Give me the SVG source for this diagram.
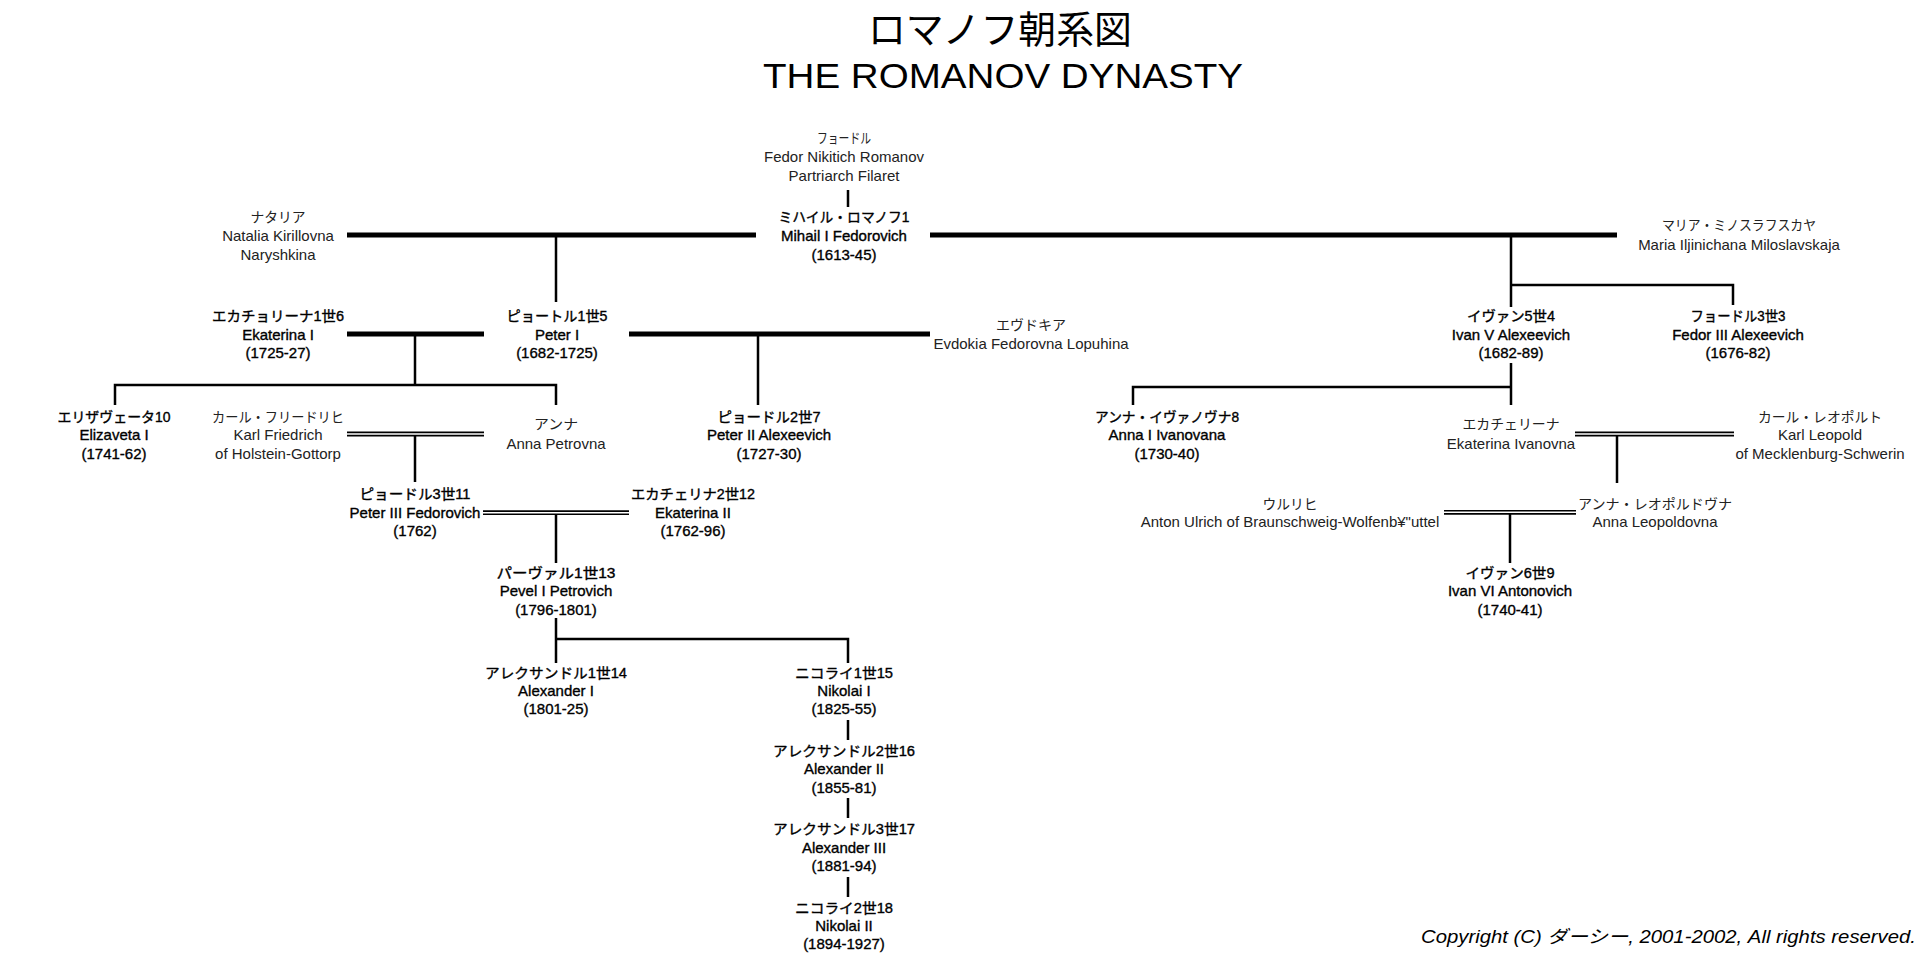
<svg xmlns="http://www.w3.org/2000/svg" width="1932" height="955" viewBox="0 0 1932 955">
<style>
text{font-family:"Liberation Sans","Noto Sans CJK JP",sans-serif;font-size:15px;text-anchor:middle;fill:#222}
.jp{font-size:14px}
.b{fill:#000;stroke:#000;stroke-width:0.35}
.title{font-size:38px;fill:#000}
.title2{font-size:35px;fill:#000}
.copy{font-size:18px;font-style:italic;text-anchor:start;fill:#000}
.thick{stroke:#000;stroke-width:5;fill:none}
.thin{stroke:#000;stroke-width:2.5;fill:none}
.dbl{stroke:#000;stroke-width:1.6;fill:none}
</style>
<rect width="1932" height="955" fill="#fff"/>
<g id="title">
<text class="title" x="1000" y="43" textLength="264" lengthAdjust="spacingAndGlyphs">ロマノフ朝系図</text>
<text class="title2" x="1003" y="88" textLength="480" lengthAdjust="spacingAndGlyphs">THE ROMANOV DYNASTY</text>
</g>
<g id="connectors">
<path class="thick" d="M347 235H756M930 235H1617M347 334H484M629 334H930"/>
<path class="dbl" d="M347 432.4H484M347 435.6H484M1575 432.4H1734M1575 435.6H1734M483 511.1H629M483 514.3H629M1444 510.7H1576M1444 513.9H1576"/>
<path class="thin" d="M848 190V207M556 235V302M1511 235V307M1511 285H1733V305M415 334V385M115 405V385H556V405M758 334V405M1511 363V405M1511 387H1133V405M415 436V482M1617 436V483M556 514V563M1510 514V563M556 618V639M556 663V639H848V663M848 720V740M848 798V818M848 877V897"/>
</g>
<g id="fedor_nikitich">
<text class="jp" x="844" y="143" textLength="54" lengthAdjust="spacingAndGlyphs">フョードル</text>
<text x="844" y="162">Fedor Nikitich Romanov</text>
<text x="844" y="181">Partriarch Filaret</text>
</g>
<g id="mihail">
<text class="jp b" x="844" y="222" textLength="131" lengthAdjust="spacingAndGlyphs">ミハイル・ロマノフ1</text>
<text class="b" x="844" y="241">Mihail I Fedorovich</text>
<text class="b" x="844" y="260">(1613-45)</text>
</g>
<g id="natalia">
<text class="jp" x="278" y="222" textLength="55" lengthAdjust="spacingAndGlyphs">ナタリア</text>
<text x="278" y="241">Natalia Kirillovna</text>
<text x="278" y="260">Naryshkina</text>
</g>
<g id="maria">
<text class="jp" x="1739" y="230" textLength="154" lengthAdjust="spacingAndGlyphs">マリア・ミノスラフスカヤ</text>
<text x="1739" y="250">Maria Iljinichana Miloslavskaja</text>
</g>
<g id="ekaterina1">
<text class="jp b" x="278" y="321" textLength="132" lengthAdjust="spacingAndGlyphs">エカチョリーナ1世6</text>
<text class="b" x="278" y="340">Ekaterina I</text>
<text class="b" x="278" y="358">(1725-27)</text>
</g>
<g id="peter1">
<text class="jp b" x="557" y="321" textLength="101" lengthAdjust="spacingAndGlyphs">ピョートル1世5</text>
<text class="b" x="557" y="340">Peter I</text>
<text class="b" x="557" y="358">(1682-1725)</text>
</g>
<g id="evdokia">
<text class="jp" x="1031" y="330" textLength="70" lengthAdjust="spacingAndGlyphs">エヴドキア</text>
<text x="1031" y="349">Evdokia Fedorovna Lopuhina</text>
</g>
<g id="ivan5">
<text class="jp b" x="1511" y="321" textLength="88" lengthAdjust="spacingAndGlyphs">イヴァン5世4</text>
<text class="b" x="1511" y="340">Ivan V Alexeevich</text>
<text class="b" x="1511" y="358">(1682-89)</text>
</g>
<g id="fedor3">
<text class="jp b" x="1738" y="321" textLength="95" lengthAdjust="spacingAndGlyphs">フョードル3世3</text>
<text class="b" x="1738" y="340">Fedor III Alexeevich</text>
<text class="b" x="1738" y="358">(1676-82)</text>
</g>
<g id="elizaveta">
<text class="jp b" x="114" y="422" textLength="113" lengthAdjust="spacingAndGlyphs">エリザヴェータ10</text>
<text class="b" x="114" y="440">Elizaveta I</text>
<text class="b" x="114" y="459">(1741-62)</text>
</g>
<g id="karl_friedrich">
<text class="jp" x="278" y="422" textLength="132" lengthAdjust="spacingAndGlyphs">カール・フリードリヒ</text>
<text x="278" y="440">Karl Friedrich</text>
<text x="278" y="459">of Holstein-Gottorp</text>
</g>
<g id="anna_petrovna">
<text class="jp" x="556" y="429" textLength="44" lengthAdjust="spacingAndGlyphs">アンナ</text>
<text x="556" y="449">Anna Petrovna</text>
</g>
<g id="peter2">
<text class="jp b" x="769" y="422" textLength="103" lengthAdjust="spacingAndGlyphs">ピョードル2世7</text>
<text class="b" x="769" y="440">Peter II Alexeevich</text>
<text class="b" x="769" y="459">(1727-30)</text>
</g>
<g id="anna_ivanovna">
<text class="jp b" x="1167" y="422" textLength="144" lengthAdjust="spacingAndGlyphs">アンナ・イヴァノヴナ8</text>
<text class="b" x="1167" y="440">Anna I Ivanovana</text>
<text class="b" x="1167" y="459">(1730-40)</text>
</g>
<g id="ekaterina_ivanovna">
<text class="jp" x="1511" y="429" textLength="97" lengthAdjust="spacingAndGlyphs">エカチェリーナ</text>
<text x="1511" y="449">Ekaterina Ivanovna</text>
</g>
<g id="karl_leopold">
<text class="jp" x="1820" y="422" textLength="124" lengthAdjust="spacingAndGlyphs">カール・レオポルト</text>
<text x="1820" y="440">Karl Leopold</text>
<text x="1820" y="459">of Mecklenburg-Schwerin</text>
</g>
<g id="peter3">
<text class="jp b" x="415" y="499" textLength="111" lengthAdjust="spacingAndGlyphs">ピョードル3世11</text>
<text class="b" x="415" y="518">Peter III Fedorovich</text>
<text class="b" x="415" y="536">(1762)</text>
</g>
<g id="ekaterina2">
<text class="jp b" x="693" y="499" textLength="124" lengthAdjust="spacingAndGlyphs">エカチェリナ2世12</text>
<text class="b" x="693" y="518">Ekaterina II</text>
<text class="b" x="693" y="536">(1762-96)</text>
</g>
<g id="ulrich">
<text class="jp" x="1290" y="509" textLength="55" lengthAdjust="spacingAndGlyphs">ウルリヒ</text>
<text x="1290" y="527">Anton Ulrich of Braunschweig-Wolfenb¥"uttel</text>
</g>
<g id="anna_leopoldovna">
<text class="jp" x="1655" y="509" textLength="154" lengthAdjust="spacingAndGlyphs">アンナ・レオポルドヴナ</text>
<text x="1655" y="527">Anna Leopoldovna</text>
</g>
<g id="pavel1">
<text class="jp b" x="556" y="578" textLength="119" lengthAdjust="spacingAndGlyphs">パーヴァル1世13</text>
<text class="b" x="556" y="596">Pevel I Petrovich</text>
<text class="b" x="556" y="615">(1796-1801)</text>
</g>
<g id="ivan6">
<text class="jp b" x="1510" y="578" textLength="89" lengthAdjust="spacingAndGlyphs">イヴァン6世9</text>
<text class="b" x="1510" y="596">Ivan VI Antonovich</text>
<text class="b" x="1510" y="615">(1740-41)</text>
</g>
<g id="alexander1">
<text class="jp b" x="556" y="678" textLength="142" lengthAdjust="spacingAndGlyphs">アレクサンドル1世14</text>
<text class="b" x="556" y="696">Alexander I</text>
<text class="b" x="556" y="714">(1801-25)</text>
</g>
<g id="nikolai1">
<text class="jp b" x="844" y="678" textLength="98" lengthAdjust="spacingAndGlyphs">ニコライ1世15</text>
<text class="b" x="844" y="696">Nikolai I</text>
<text class="b" x="844" y="714">(1825-55)</text>
</g>
<g id="alexander2">
<text class="jp b" x="844" y="756" textLength="142" lengthAdjust="spacingAndGlyphs">アレクサンドル2世16</text>
<text class="b" x="844" y="774">Alexander II</text>
<text class="b" x="844" y="793">(1855-81)</text>
</g>
<g id="alexander3">
<text class="jp b" x="844" y="834" textLength="142" lengthAdjust="spacingAndGlyphs">アレクサンドル3世17</text>
<text class="b" x="844" y="853">Alexander III</text>
<text class="b" x="844" y="871">(1881-94)</text>
</g>
<g id="nikolai2">
<text class="jp b" x="844" y="913" textLength="98" lengthAdjust="spacingAndGlyphs">ニコライ2世18</text>
<text class="b" x="844" y="931">Nikolai II</text>
<text class="b" x="844" y="949">(1894-1927)</text>
</g>
<g id="copyright">
<text class="copy" x="1421" y="943" textLength="495" lengthAdjust="spacingAndGlyphs">Copyright (C) ダーシー, 2001-2002, All rights reserved.</text>
</g>
</svg>
